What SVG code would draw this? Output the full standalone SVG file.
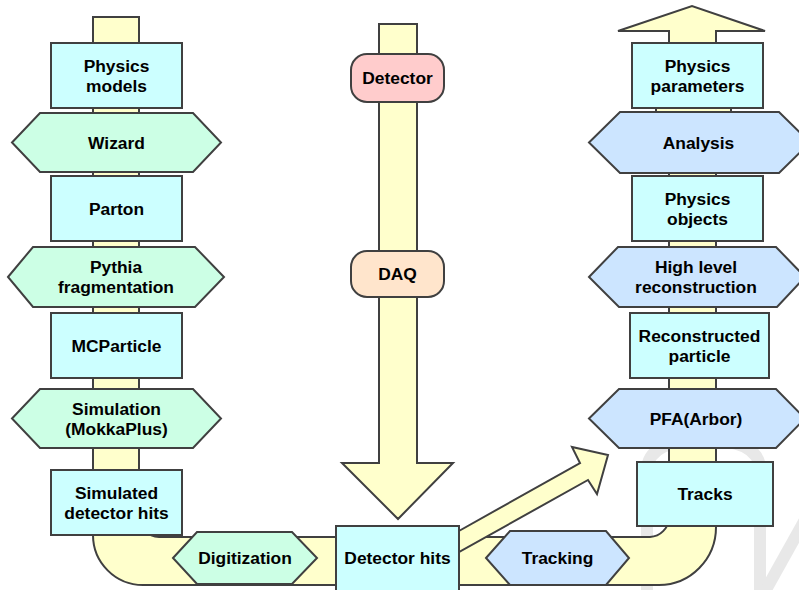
<svg xmlns="http://www.w3.org/2000/svg" width="799" height="590" viewBox="0 0 799 590">
<style>
  .pipe{fill:#ffffcc;stroke:#404040;stroke-width:2;stroke-linejoin:miter}
  .box{fill:#ccffff;stroke:#404040;stroke-width:2}
  .hexg{fill:#ccffe5;stroke:#404040;stroke-width:2}
  .hexb{fill:#cce5ff;stroke:#404040;stroke-width:2}
  .det{fill:#ffcccc;stroke:#404040;stroke-width:2}
  .daq{fill:#ffe5cc;stroke:#404040;stroke-width:2}
  text{font-family:"Liberation Sans",Arial,sans-serif;font-weight:bold;font-size:17.4px;fill:#000;text-anchor:middle}
  .wm{fill:none;stroke:#e8e8e8;stroke-width:12}
</style>
<rect width="799" height="590" fill="#ffffff"/>
<g id="watermark">
  <path class="wm" d="M 647 595 V 470 Q 648 440 704 440 Q 760 440 760 470 V 595"/>
  <path class="wm" d="M 806 518 L 763 595"/>
</g>
<g id="connectors">
  <path class="pipe" d="M 93 17 H 139 V 517 A 20 20 0 0 0 159 537 H 650 A 20 20 0 0 0 669 518 V 31 H 618 L 692 6 L 765 31 H 716 V 527 A 57 58 0 0 1 659 585 H 143 A 50 50 0 0 1 93 535 Z"/>
  <rect class="pipe" x="656" y="106" width="75" height="8"/>
  <polygon class="pipe" points="379,24 417,24 417,463 453,463 398,519 342,463 379,463"/>
  <polygon class="pipe" points="450,536 580,463 572,447 608,455 597,494 588,480 450,557"/>
</g>
<g id="physics-models"><rect class="box" x="51" y="43" width="131" height="65"/><text x="116.5" y="71.5">Physics</text><text x="116.5" y="91.5">models</text></g>
<g id="wizard"><polygon class="hexg" points="12,142.5 40,113 193,113 221,142.5 193,172 40,172"/><text x="116.5" y="148.5">Wizard</text></g>
<g id="parton"><rect class="box" x="51" y="176" width="131" height="65"/><text x="116.5" y="214.5">Parton</text></g>
<g id="pythia"><polygon class="hexg" points="8,277 33,247 195,247 224,277 195,307 33,307"/><text x="116" y="273">Pythia</text><text x="116" y="293">fragmentation</text></g>
<g id="mcparticle"><rect class="box" x="51" y="313" width="131" height="65"/><text x="116.5" y="351.5">MCParticle</text></g>
<g id="simulation"><polygon class="hexg" points="12,418.5 40,389 193,389 221,418.5 193,448 40,448"/><text x="116.5" y="414.5">Simulation</text><text x="116.5" y="434.5">(MokkaPlus)</text></g>
<g id="simulated-hits"><rect class="box" x="51" y="470" width="131" height="65"/><text x="116.5" y="498.5">Simulated</text><text x="116.5" y="518.5">detector hits</text></g>
<g id="digitization"><polygon class="hexg" points="173,558 197,532 292,532 317,558 292,584 197,584"/><text x="245" y="564">Digitization</text></g>
<g id="detector"><rect class="det" x="351" y="54" width="93" height="48" rx="16"/><text x="397.5" y="84">Detector</text></g>
<g id="daq"><rect class="daq" x="351" y="251" width="93" height="46" rx="16"/><text x="397.5" y="280">DAQ</text></g>
<g id="detector-hits"><rect class="box" x="336" y="526" width="123" height="70"/><text x="397.5" y="564">Detector hits</text></g>
<g id="tracking"><polygon class="hexb" points="486,558 510,531 606,531 629,558 606,585 510,585"/><text x="557.5" y="564">Tracking</text></g>
<g id="physics-parameters"><rect class="box" x="632" y="43" width="131" height="65"/><text x="697.5" y="71.5">Physics</text><text x="697.5" y="91.5">parameters</text></g>
<g id="analysis"><polygon class="hexb" points="589,142.5 620,112 779,112 810,142.5 779,173 620,173"/><text x="698.5" y="148.5">Analysis</text></g>
<g id="physics-objects"><rect class="box" x="632" y="176" width="131" height="65"/><text x="697.5" y="204.5">Physics</text><text x="697.5" y="224.5">objects</text></g>
<g id="high-level"><polygon class="hexb" points="589,277 618,247 776,247 805,277 777,307 619,307"/><text x="696" y="273">High level</text><text x="696" y="293">reconstruction</text></g>
<g id="reconstructed-particle"><rect class="box" x="630" y="313" width="139" height="65"/><text x="699.5" y="341.5">Reconstructed</text><text x="699.5" y="361.5">particle</text></g>
<g id="pfa"><polygon class="hexb" points="589,418.5 619,389 776,389 805,418.5 776,448 619,448"/><text x="696" y="424.5">PFA(Arbor)</text></g>
<g id="tracks"><rect class="box" x="637" y="462" width="136" height="64"/><text x="705" y="500">Tracks</text></g>
</svg>
